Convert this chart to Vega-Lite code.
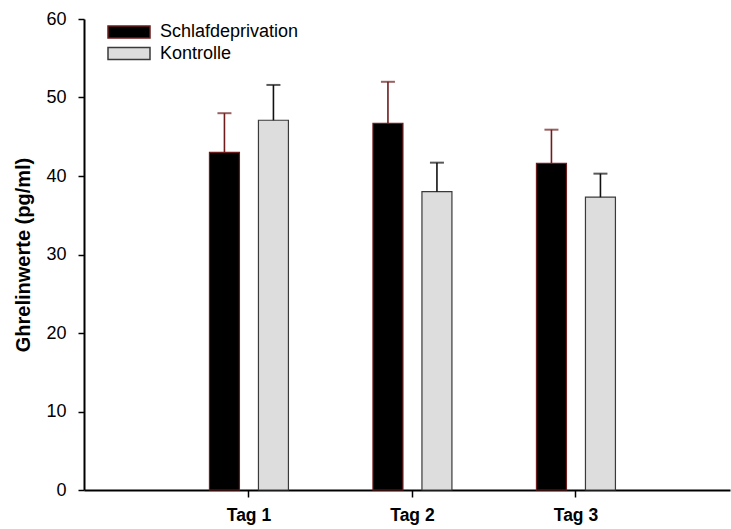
{
  "$schema": "https://vega.github.io/schema/vega-lite/v6.json",
  "width": 646,
  "height": 471,
  "autosize": {"type": "none"},
  "padding": {"left": 84, "top": 19, "right": 1, "bottom": 39},
  "background": "white",
  "config": {
    "view": {"stroke": null},
    "font": "Liberation Sans",
    "axis": {
      "domainColor": "#000000",
      "domainWidth": 2,
      "tickColor": "#000000",
      "tickWidth": 1.5,
      "labelColor": "#000000",
      "titleColor": "#000000",
      "grid": false
    },
    "legend": {
      "orient": "none",
      "legendX": 33.5,
      "legendY": 1.5,
      "padding": 0,
      "symbolType": "M-2,-0.571H2V0.571H-2Z",
      "symbolSize": 441,
      "symbolStrokeWidth": 1.5,
      "labelFontSize": 18,
      "labelOffset": 19.5,
      "labelColor": "#000000",
      "rowPadding": 0.5
    }
  },
  "data": {
    "values": [
      {"tag": "Tag 1", "group": "Schlafdeprivation", "mean": 43.0, "upper": 48.0},
      {"tag": "Tag 1", "group": "Kontrolle", "mean": 47.1, "upper": 51.6},
      {"tag": "Tag 2", "group": "Schlafdeprivation", "mean": 46.7, "upper": 52.0},
      {"tag": "Tag 2", "group": "Kontrolle", "mean": 38.0, "upper": 41.7},
      {"tag": "Tag 3", "group": "Schlafdeprivation", "mean": 41.6, "upper": 45.9},
      {"tag": "Tag 3", "group": "Kontrolle", "mean": 37.3, "upper": 40.3}
    ]
  },
  "encoding": {
    "x": {
      "field": "tag",
      "type": "nominal",
      "scale": {"paddingInner": 0, "paddingOuter": 0.4755, "align": 0.535},
      "axis": {
        "title": null,
        "labelAngle": 0,
        "labelFontSize": 17.5,
        "labelFontWeight": "bold",
        "labelPadding": 9,
        "tickSize": 7
      }
    },
    "xOffset": {
      "field": "group",
      "type": "nominal",
      "sort": ["Schlafdeprivation", "Kontrolle"],
      "scale": {"paddingInner": 0.388, "paddingOuter": 0.8625}
    }
  },
  "layer": [
    {
      "mark": {"type": "bar", "strokeWidth": 1.2},
      "encoding": {
        "y": {
          "field": "mean",
          "type": "quantitative",
          "scale": {"domain": [0, 60], "nice": false},
          "axis": {
            "title": "Ghrelinwerte (pg/ml)",
            "titleFontSize": 20,
            "titleFontWeight": "bold",
            "titlePadding": 12,
            "values": [0, 10, 20, 30, 40, 50, 60],
            "labelFontSize": 18,
            "labelPadding": 12,
            "tickSize": 6
          }
        },
        "fill": {
          "field": "group",
          "type": "nominal",
          "sort": ["Schlafdeprivation", "Kontrolle"],
          "scale": {"domain": ["Schlafdeprivation", "Kontrolle"], "range": ["#000000", "#dddddd"]},
          "legend": {"title": null}
        },
        "stroke": {
          "field": "group",
          "type": "nominal",
          "sort": ["Schlafdeprivation", "Kontrolle"],
          "scale": {"domain": ["Schlafdeprivation", "Kontrolle"], "range": ["#6e1c1c", "#3a3a3a"]},
          "legend": {"title": null}
        }
      }
    },
    {
      "mark": {"type": "rule", "strokeWidth": 1.6},
      "encoding": {
        "y": {"field": "mean", "type": "quantitative"},
        "y2": {"field": "upper"},
        "color": {
          "field": "group",
          "type": "nominal",
          "scale": {"domain": ["Schlafdeprivation", "Kontrolle"], "range": ["#6e1c1c", "#111111"]},
          "legend": null
        }
      }
    },
    {
      "mark": {"type": "tick", "size": 14, "thickness": 2},
      "encoding": {
        "y": {"field": "upper", "type": "quantitative"},
        "color": {
          "field": "group",
          "type": "nominal",
          "scale": {"domain": ["Schlafdeprivation", "Kontrolle"], "range": ["#6e1c1c", "#111111"]},
          "legend": null
        }
      }
    }
  ]
}
